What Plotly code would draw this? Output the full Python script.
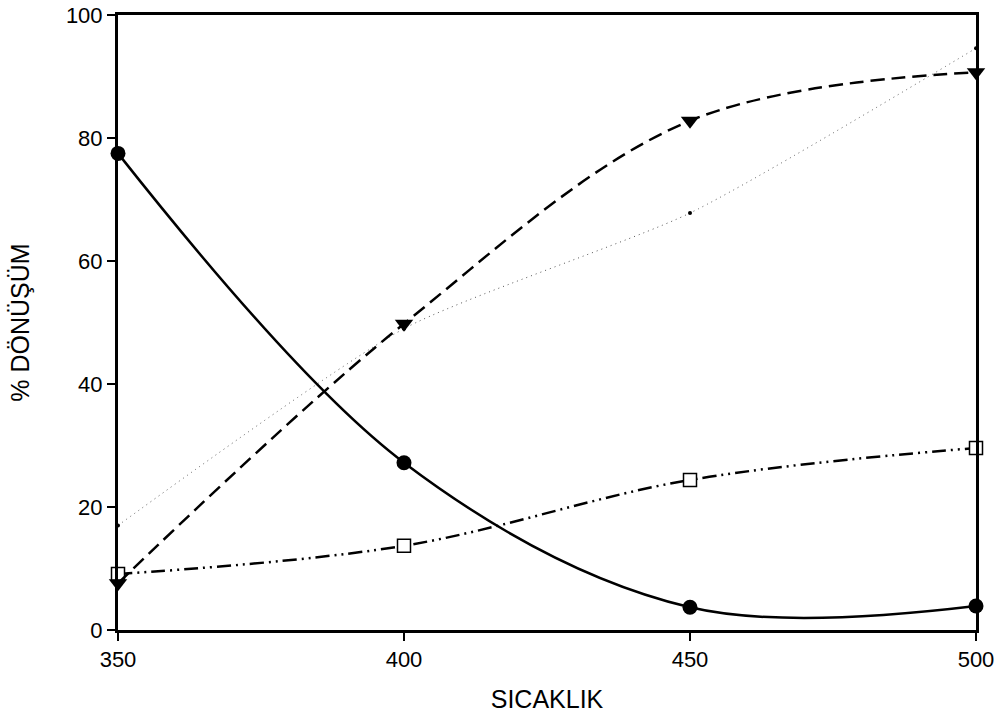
import plotly.graph_objects as go

temps = [350, 400, 450, 500]
s_circle = [77.5, 27.2, 3.7, 3.9]
s_triangle = [7.6, 49.8, 82.8, 90.7]
s_dot = [17.0, 49.0, 67.8, 94.6]
s_square = [9.1, 13.7, 24.4, 29.6]

x_ticks = [350, 400, 450, 500]
y_ticks = [0, 20, 40, 60, 80, 100]

fig = go.Figure()

fig.add_trace(go.Scatter(
    x=temps, y=s_dot, mode="lines+markers",
    line=dict(color="#555555", width=1, dash="1px,4px", shape="spline", smoothing=0.6),
    marker=dict(symbol="circle", size=4, color="black"),
    showlegend=False, cliponaxis=False))

fig.add_trace(go.Scatter(
    x=temps, y=s_square, mode="lines+markers",
    line=dict(color="black", width=2.5, dash="14px,5px,2px,5px,2px,5px", shape="spline", smoothing=1),
    marker=dict(symbol="square", size=13, color="white", line=dict(color="black", width=1.5)),
    showlegend=False, cliponaxis=False))

fig.add_trace(go.Scatter(
    x=temps, y=s_triangle, mode="lines+markers",
    line=dict(color="black", width=2.5, dash="14px,7px", shape="spline", smoothing=1),
    marker=dict(symbol="triangle-down", size=16, color="black"),
    showlegend=False, cliponaxis=False))

fig.add_trace(go.Scatter(
    x=temps, y=s_circle, mode="lines+markers",
    line=dict(color="black", width=2.5, shape="spline", smoothing=1),
    marker=dict(symbol="circle", size=15, color="black"),
    showlegend=False, cliponaxis=False))

fig.update_layout(
    width=998, height=720,
    margin=dict(l=118, r=22, t=15, b=90, autoexpand=False),
    paper_bgcolor="white", plot_bgcolor="white",
    font=dict(family="Liberation Sans, Arial, sans-serif", color="black", size=22),
)
fig.update_xaxes(
    range=[350, 500], tickvals=x_ticks, ticktext=[str(v) for v in x_ticks],
    showline=True, linewidth=3, linecolor="black", mirror=True,
    ticks="outside", ticklen=8, tickwidth=2, tickcolor="black",
    showgrid=False, zeroline=False, automargin=False,
    tickfont=dict(size=22),
    title=dict(text="SICAKLIK", font=dict(size=25), standoff=20),
)
fig.update_yaxes(
    range=[0, 100], tickvals=y_ticks,
    showline=True, linewidth=3, linecolor="black", mirror=True,
    ticks="outside", ticklen=8, tickwidth=2, tickcolor="black",
    showgrid=False, zeroline=False, automargin=False,
    tickfont=dict(size=22),
    title=dict(text="% DÖNÜŞÜM", font=dict(size=25), standoff=30),
)

fig.write_html(
    "out.html",
    config={"displayModeBar": False},
    post_script="document.body.style.margin='0';document.body.style.overflow='hidden';",
)
